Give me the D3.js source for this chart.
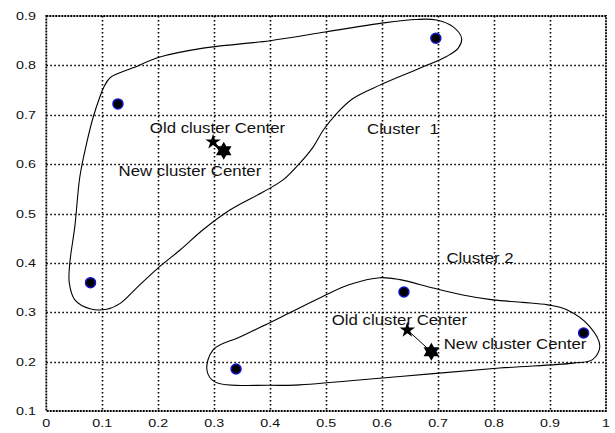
<!DOCTYPE html>
<html>
<head>
<meta charset="utf-8">
<script src="https://cdn.jsdelivr.net/npm/d3@7"></script>
<style>
  body { margin: 0; background: #fff; }
  text { font-family: "Liberation Sans", Arial, sans-serif; fill: #111; }
</style>
</head>
<body>
<svg></svg>
<script>
// tick values
var xTicks = [0, 0.1, 0.2, 0.3, 0.4, 0.5, 0.6, 0.7, 0.8, 0.9, 1];
var yTicks = [0.1, 0.2, 0.3, 0.4, 0.5, 0.6, 0.7, 0.8, 0.9];

// data points
var pointX = [0.128, 0.696, 0.079, 0.339, 0.639, 0.960];
var pointY = [0.722, 0.855, 0.360, 0.185, 0.341, 0.258];

// cluster centers: old / new
var oldCenterX = [0.298, 0.645];
var oldCenterY = [0.645, 0.264];
var newCenterX = [0.317, 0.688];
var newCenterY = [0.627, 0.220];

// hand drawn cluster outlines (data units)
var cluster1X = [0.102, 0.114, 0.155, 0.203, 0.275, 0.400, 0.501, 0.602, 0.661, 0.697, 0.727, 0.742, 0.736, 0.715, 0.667, 0.596, 0.548, 0.519, 0.495, 0.477, 0.453, 0.423, 0.388, 0.328, 0.280, 0.239, 0.198, 0.161, 0.132, 0.108, 0.078, 0.051, 0.041, 0.042, 0.051, 0.060, 0.072, 0.084, 0.096];
var cluster1Y = [0.754, 0.775, 0.795, 0.817, 0.834, 0.850, 0.868, 0.886, 0.893, 0.892, 0.878, 0.855, 0.835, 0.818, 0.794, 0.760, 0.733, 0.703, 0.669, 0.635, 0.602, 0.568, 0.544, 0.507, 0.467, 0.426, 0.388, 0.349, 0.318, 0.306, 0.307, 0.325, 0.360, 0.400, 0.474, 0.575, 0.642, 0.696, 0.737];
var cluster2X = [0.287, 0.298, 0.346, 0.400, 0.435, 0.494, 0.542, 0.596, 0.632, 0.691, 0.744, 0.798, 0.851, 0.896, 0.930, 0.971, 0.989, 0.976, 0.941, 0.810, 0.632, 0.453, 0.400, 0.301];
var cluster2Y = [0.183, 0.224, 0.250, 0.279, 0.299, 0.332, 0.356, 0.370, 0.366, 0.349, 0.335, 0.325, 0.320, 0.315, 0.305, 0.271, 0.231, 0.204, 0.197, 0.187, 0.170, 0.153, 0.152, 0.159];

// text labels
var labelText = ["Old cluster Center", "New cluster Center", "Cluster  1", "Cluster 2", "Old cluster Center", "New cluster Center"];
var labelX = [0.185, 0.129, 0.573, 0.715, 0.510, 0.710];
var labelY = [0.664, 0.575, 0.661, 0.399, 0.2745, 0.2253];

var width = 615, height = 433;
var svg = d3.select("svg").attr("width", width).attr("height", height);

var x = d3.scaleLinear().domain([0, 1]).range([46.3, 606]);
var y = d3.scaleLinear().domain([0.1, 0.9]).range([411, 16]);

// grid
svg.append("g").selectAll("line").data(xTicks.slice(1, -1)).enter().append("line")
  .attr("x1", d => Math.round(x(d)) + 0.5).attr("x2", d => Math.round(x(d)) + 0.5)
  .attr("y1", y(0.9)).attr("y2", y(0.1))
  .attr("stroke", "#000").attr("stroke-width", 1.6).attr("stroke-dasharray", "1.6,2.4");
svg.append("g").selectAll("line").data(yTicks.slice(1, -1)).enter().append("line")
  .attr("y1", d => Math.round(y(d)) + 0.5).attr("y2", d => Math.round(y(d)) + 0.5)
  .attr("x1", x(0)).attr("x2", x(1))
  .attr("stroke", "#000").attr("stroke-width", 1.6).attr("stroke-dasharray", "1.6,2.4");

// frame
svg.append("rect")
  .attr("x", x(0)).attr("y", y(0.9))
  .attr("width", x(1) - x(0)).attr("height", y(0.1) - y(0.9))
  .attr("fill", "none").attr("stroke", "#000")
  .attr("stroke-width", 1.8).attr("stroke-dasharray", "2,1");

// tick labels
svg.append("g").selectAll("text").data(xTicks).enter().append("text")
  .attr("transform", d => "translate(" + x(d) + "," + 427 + ") scale(1.3,1)")
  .attr("text-anchor", "middle")
  .attr("font-size", 11)
  .text(d => d3.format("")(d));
svg.append("g").selectAll("text").data(yTicks).enter().append("text")
  .attr("transform", d => "translate(" + 36 + "," + (y(d) + 4) + ") scale(1.3,1)")
  .attr("text-anchor", "end")
  .attr("font-size", 11)
  .text(d => d.toFixed(1));

// cluster outlines
var outline = d3.line()
  .x(d => x(d[0])).y(d => y(d[1]))
  .curve(d3.curveCatmullRomClosed.alpha(0.5));
[[cluster1X, cluster1Y], [cluster2X, cluster2Y]].forEach(function(c) {
  svg.append("path")
    .attr("d", outline(d3.zip(c[0], c[1])))
    .attr("fill", "none").attr("stroke", "#000").attr("stroke-width", 1.1);
});

// points
svg.append("g").selectAll("circle").data(d3.zip(pointX, pointY)).enter().append("circle")
  .attr("cx", d => x(d[0])).attr("cy", d => y(d[1]))
  .attr("r", 5)
  .attr("fill", "#000").attr("stroke", "#1414c8").attr("stroke-width", 1.5);

// lines old -> new center
d3.range(2).forEach(function(i) {
  svg.append("line")
    .attr("x1", x(oldCenterX[i])).attr("y1", y(oldCenterY[i]))
    .attr("x2", x(newCenterX[i])).attr("y2", y(newCenterY[i]))
    .attr("stroke", "#000").attr("stroke-width", 1);
});

// stars
var star5 = d3.symbol().type(d3.symbolStar).size(75);
hexagram = r => {
  var p = "";
  [-90, 90].forEach(function(a0) {
    for (var k = 0; k < 3; k++) {
      var a = (a0 + k * 120) * Math.PI / 180;
      p += (k === 0 ? "M" : "L") + (r * Math.cos(a)).toFixed(2) + "," + (r * Math.sin(a)).toFixed(2);
    }
    p += "Z";
  });
  return p;
};
d3.range(2).forEach(function(i) {
  svg.append("path")
    .attr("d", star5())
    .attr("transform", "translate(" + x(oldCenterX[i]) + "," + y(oldCenterY[i]) + ")")
    .attr("fill", "#000");
  svg.append("path")
    .attr("d", hexagram(9))
    .attr("transform", "translate(" + x(newCenterX[i]) + "," + y(newCenterY[i]) + ")")
    .attr("fill", "#000");
});

// labels
svg.append("g").selectAll("text").data(labelText).enter().append("text")
  .attr("transform", (d, i) => "translate(" + x(labelX[i]) + "," + y(labelY[i]) + ") scale(1.2,1)")
  .attr("font-size", 14)
  .style("white-space", "pre")
  .text(d => d);
</script>
</body>
</html>
